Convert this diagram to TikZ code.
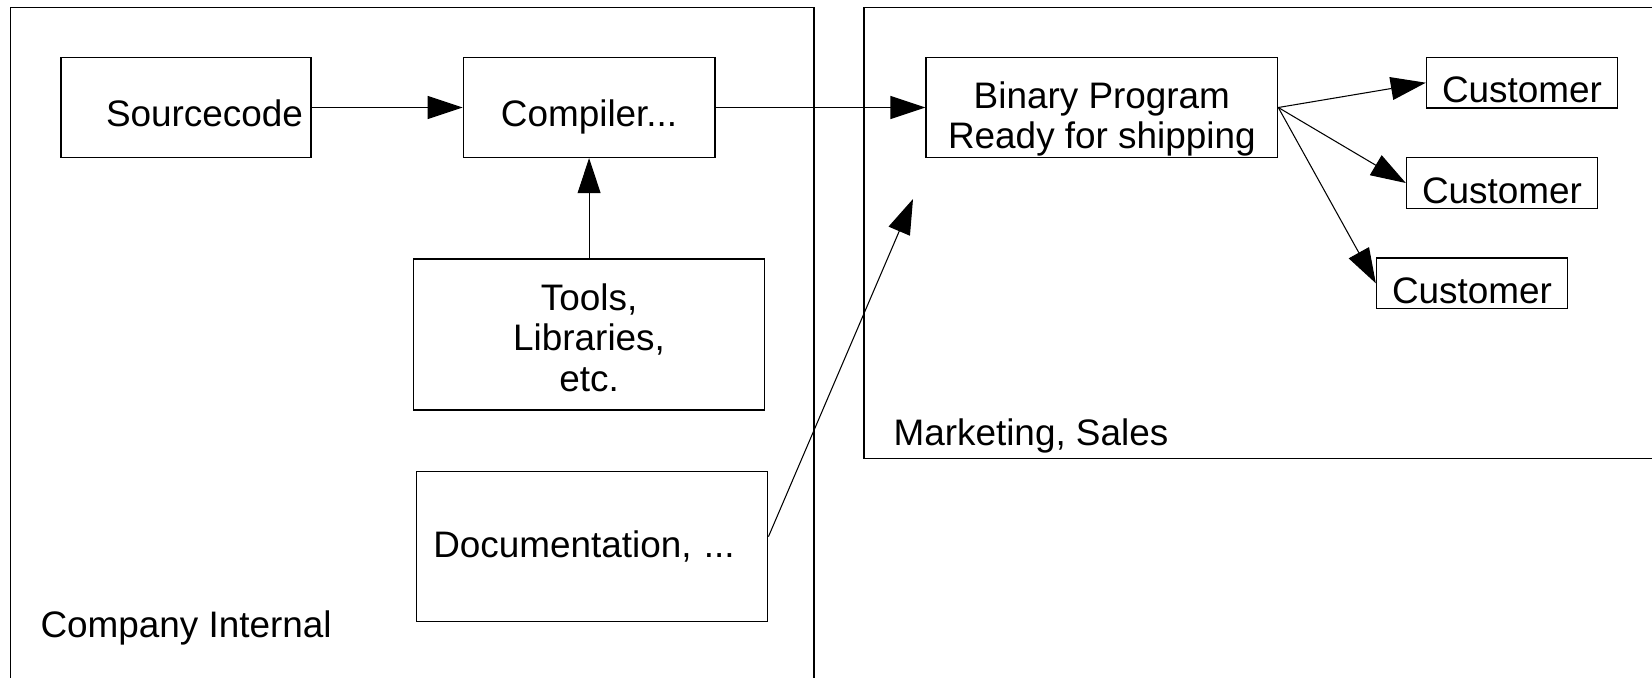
\documentclass[tikz,border=0pt]{standalone}
\usepackage{fontspec}
\setmainfont{Liberation Sans}
\usepackage{tikz}
\usetikzlibrary{positioning, arrows.meta}
\tikzstyle{blk}=[%
      rectangle, draw=black, line width=0.8pt, fill=none,
      minimum height=2cm, minimum width=5cm, inner sep=0pt, align=center
]
\tikzstyle{cust}=[%
      rectangle, draw=black, line width=0.8pt, fill=none,
      minimum height=1.01cm, minimum width=3.82cm, inner sep=0pt,
      text height=0.8cm, text depth=0pt
]
\tikzstyle{area}=[%
      -, draw=black, line width=0.8pt
]
\tikzstyle{lbl}=[%
      anchor=base west, inner sep=0pt
]

\begin{document}
\begin{tikzpicture}[x=0.02cm, y=-0.02cm,
    font=\fontsize{21}{23}\selectfont,
    ->,
    -{Triangle[length=0.7cm,width=0.46cm]},
    line width=0.6pt
  ]
    \useasboundingbox (0,0) rectangle (1652,677);

    % the two areas
    \draw[area] (10.6,690) -- (10.6,7.3) -- (814,7.3) -- (814,690);
    \draw[area] (1670,7.3) -- (864,7.3) -- (864,458.3) -- (1670,458.3);
    \node[lbl] (internal) at (40,637)  {Company Internal};
    \node[lbl] (sales)    at (893,445) {Marketing, Sales};

    \node[blk, text width=4.68cm, align=right, text height=0.76cm, text depth=0pt] (src) at (186,107.5) {Sourcecode};
    \node[blk, minimum width=5.03cm, text height=0.76cm, text depth=0pt] (comp)  [right = 3.02cm of src]  {Compiler...};
    \node[blk, minimum width=7.02cm, minimum height=3.02cm] (tools) [below = 2cm of comp] {\rule{0pt}{0.66cm}Tools,\\ Libraries,\\ etc.};
    \node[blk, minimum width=7.03cm, minimum height=3cm, text width=6.35cm, align=left] (doc) at (592,546.7) {Documentation, ...};
    \node[blk, minimum width=7.03cm] (bin)   [right = 4.2cm of comp]  {\rule{0pt}{1cm}Binary Program\\ Ready for shipping};
    \node[cust] (c1) at (1522,82.7)  {Customer};
    \node[cust] (c2) at (1502,183)   {Customer};
    \node[cust] (c3) at (1472,283.3) {Customer};
    \coordinate (docend) at (913,199);

    \path (src) edge (comp)
          (comp) edge (bin)
          (tools) edge (comp)
          (bin.east) edge (c1.west)
          (bin.east) edge (c2.west)
          (bin.east) edge (c3.west)
          ([yshift=0.2cm]doc.east) edge (docend)
    ;

\end{tikzpicture}
\end{document}
